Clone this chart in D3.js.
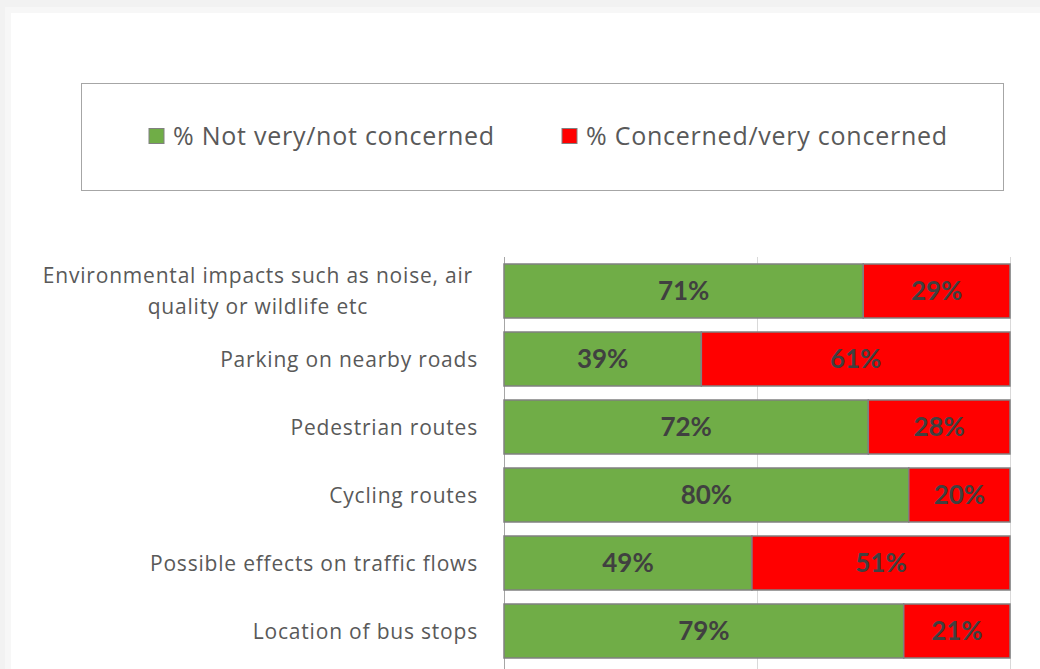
<!DOCTYPE html>
<html>
<head>
<meta charset="utf-8">
<script src="https://cdn.jsdelivr.net/npm/d3@7"></script>
<style>
  html, body { margin: 0; padding: 0; background: #f2f2f2; }
  svg { display: block; }
</style>
</head>
<body>
<script>
// chart data
const categories = [
    ["Environmental impacts such as noise, air", "quality or wildlife etc"],
    ["Parking on nearby roads"],
    ["Pedestrian routes"],
    ["Cycling routes"],
    ["Possible effects on traffic flows"],
    ["Location of bus stops"]
];
const notConcerned = [71, 39, 72, 80, 49, 79];
const concerned = [29, 61, 28, 20, 51, 21];
const seriesNames = ["% Not very/not concerned", "% Concerned/very concerned"];
const xTicks = [0, 50, 100];

const w = 1040, h = 669;
const colors = ["#70ad47", "#ff0000"];
const font = "'Open Sans', sans-serif";
const boldFont = "Lato, 'Liberation Sans', sans-serif";

const svg = d3.select("body").append("svg").attr("width", w).attr("height", h);

// page shadow and white card
svg.append("rect").attr("x", 0).attr("y", 0).attr("width", w).attr("height", h).attr("fill", "#f2f2f2");
svg.append("rect").attr("x", 5).attr("y", 7).attr("width", w).attr("height", h).attr("fill", "#f7f7f7");
svg.append("rect").attr("x", 11).attr("y", 13).attr("width", w).attr("height", h).attr("fill", "#ffffff");

// legend
const legend = svg.append("g");
legend.append("rect")
    .attr("x", 81.5).attr("y", 83.5).attr("width", 922).attr("height", 107)
    .attr("fill", "none").attr("stroke", "#a6a6a6").attr("stroke-width", 1);
const legendX = [149, 562];
seriesNames.forEach((name, i) => {
    legend.append("rect")
        .attr("x", legendX[i]).attr("y", 128.5).attr("width", 15).attr("height", 15)
        .attr("fill", colors[i]).attr("stroke", "#808080").attr("stroke-width", 1);
    legend.append("text")
        .attr("x", legendX[i] + 24).attr("y", 145)
        .attr("font-family", font).attr("font-size", 25).attr("letter-spacing", 0.75)
        .attr("fill", "#595959")
        .text(name);
});

// scales
const plotLeft = 504, plotRight = 1010, plotTop = 257, plotBottom = 665;
const xScale = d3.scaleLinear().domain([0, 100]).range([plotLeft, plotRight]);
const yScale = d3.scaleBand().domain(d3.range(categories.length)).range([plotTop, plotBottom]).paddingInner(0.206).paddingOuter(0.103);

// gridlines
svg.append("g").selectAll("line").data(xTicks).enter().append("line")
    .attr("x1", d => Math.round(xScale(d)) + 0.5).attr("x2", d => Math.round(xScale(d)) + 0.5)
    .attr("y1", plotTop).attr("y2", h)
    .attr("stroke", d => d === 0 ? "#a6a6a6" : "#d9d9d9").attr("stroke-width", 1);

// stacked bars
const rows = categories.map((c, i) => [notConcerned[i], concerned[i]]);
rows.forEach((vals, i) => {
    let start = 0;
    vals.forEach((v, j) => {
        const x0 = xScale(start), x1 = xScale(start + v);
        svg.append("rect")
            .attr("x", x0).attr("y", yScale(i))
            .attr("width", x1 - x0).attr("height", yScale.bandwidth())
            .attr("fill", colors[j]).attr("stroke", "#808080").attr("stroke-width", 1.5);
        svg.append("text")
            .attr("x", (x0 + x1) / 2).attr("y", yScale(i) + yScale.bandwidth() / 2)
            .attr("dy", "0.36em").attr("text-anchor", "middle")
            .attr("font-family", boldFont).attr("font-weight", "bold").attr("font-size", 26)
            .attr("fill", "#404040")
            .text(v + "%");
        start += v;
    });
});

// category labels (wrapped labels are centred as a block)
categories.forEach((lines, i) => {
    const cy = yScale(i) + yScale.bandwidth() / 2;
    const t = svg.append("text")
        .attr("font-family", font).attr("font-size", 21)
        .attr("letter-spacing", 0.8).attr("fill", "#595959");
    const spans = lines.map((line, k) => t.append("tspan")
        .attr("y", cy + (k - (lines.length - 1) / 2) * 31)
        .attr("dy", "0.36em")
        .text(line));
    if (lines.length > 1) {
        const maxW = d3.max(spans, s => s.node().getComputedTextLength());
        t.attr("text-anchor", "middle");
        spans.forEach(s => s.attr("x", 473 - maxW / 2));
    } else {
        t.attr("text-anchor", "end");
        spans.forEach(s => s.attr("x", 478));
    }
});
</script>
</body>
</html>
